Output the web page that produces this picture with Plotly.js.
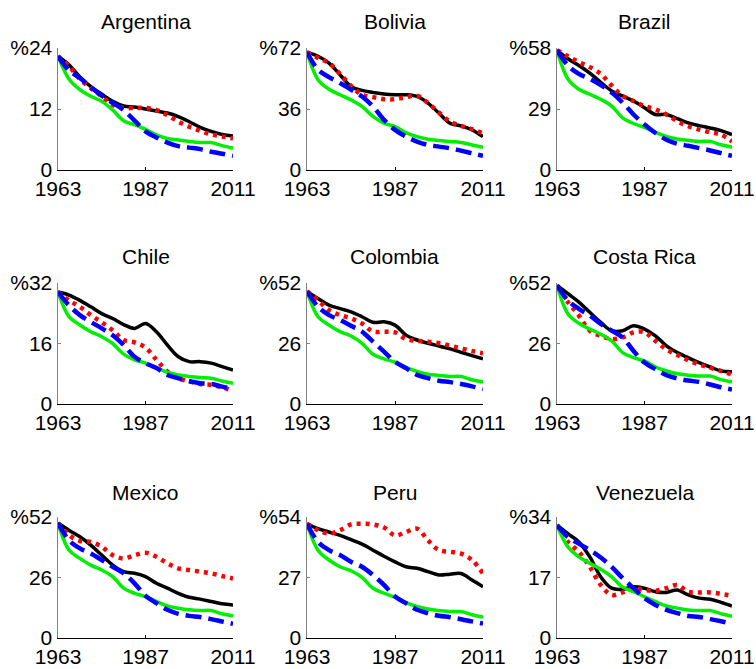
<!DOCTYPE html>
<html>
<head>
<meta charset="utf-8">
<script src="https://cdn.plot.ly/plotly-3.0.1.min.js"></script>
<style>html,body{margin:0;padding:0;background:#fff;}#chart{width:756px;height:669px;}</style>
</head>
<body>
<div id="chart"></div>
<script>
const years = [1963,1966,1969,1972,1975,1978,1981,1984,1987,1990,1993,1996,1999,2002,2005,2008,2011];
const countries = ["Argentina","Bolivia","Brazil","Chile","Colombia","Costa Rica","Mexico","Peru","Venezuela"];
const yMax = [24,72,58,32,52,52,52,54,34];
const yMid = [12,36,29,16,26,26,26,27,17];
const xTickVals = [1963,1987,2011];
const xTickText = ["1963","1987","2011"];

// series: black solid, red dotted, blue dashed, green solid
const blackSeries = [
  [22.4,20.7,18.3,16.4,14.9,13.5,12.6,12.4,12.0,11.6,11.2,10.5,9.5,8.4,7.6,7.0,6.7],
  [69.5,67.1,63.1,56.2,49.3,47.0,45.8,44.8,44.4,44.4,43.4,39.5,33.5,27.6,26.0,23.7,19.7],
  [56.9,52.9,49.7,46.1,41.7,37.6,35.2,32.8,29.6,26.4,26.4,24.4,22.4,21.1,20.0,18.7,16.8],
  [29.6,28.8,27.4,25.7,23.9,22.6,21.0,20.0,21.3,19.1,15.6,12.5,11.2,11.2,10.8,9.9,9.0],
  [48.4,45.3,42.5,41.0,39.6,37.5,35.1,35.3,33.9,29.6,27.5,26.1,24.9,23.7,22.2,20.8,19.4],
  [51.0,47.4,43.8,39.4,35.1,31.5,31.5,33.6,32.2,29.3,25.0,22.1,19.9,17.8,15.9,14.2,13.9],
  [49.4,46.3,43.5,39.9,35.6,31.3,28.5,27.8,26.4,23.5,21.4,19.2,17.5,16.7,15.7,14.7,14.2],
  [51.0,48.8,47.3,45.8,43.9,41.9,39.2,36.5,34.0,31.8,31.1,29.6,28.1,28.5,28.8,25.9,22.9],
  [31.7,29.3,27.0,22.8,17.2,14.0,13.7,14.4,14.0,13.0,12.8,13.5,12.1,11.2,10.9,10.0,9.0]
];
const redSeries = [
  [22.4,20.4,17.9,16.1,14.5,12.8,12.2,12.2,12.2,11.8,10.8,9.5,8.5,7.7,7.0,6.6,6.2],
  [69.5,66.1,63.1,56.8,49.7,44.4,43.0,41.8,41.8,43.0,43.8,39.5,33.9,28.6,26.0,24.1,21.7],
  [56.9,54.1,51.3,48.9,45.7,40.1,35.2,32.8,30.4,28.8,26.4,23.2,20.8,19.2,17.9,16.8,13.6],
  [29.6,27.4,25.7,23.5,21.6,19.5,16.9,16.3,14.9,11.7,8.6,6.8,6.0,5.3,5.1,4.4,3.5],
  [48.4,44.6,40.3,38.2,36.8,34.6,31.1,31.1,30.8,27.9,27.1,26.8,26.1,25.1,23.9,22.8,21.8],
  [51.0,43.8,38.0,31.5,29.3,27.9,28.6,30.8,30.8,27.1,23.5,21.1,18.8,17.0,15.6,14.2,12.7],
  [49.4,44.2,41.7,41.3,39.2,35.6,34.2,35.6,36.6,34.9,32.1,29.9,29.2,28.5,27.8,26.6,25.6],
  [51.0,48.1,46.6,48.1,50.7,51.0,50.7,49.3,45.8,47.3,48.8,43.6,39.2,38.5,37.7,34.8,28.8],
  [31.7,27.0,24.2,20.0,14.9,12.1,12.8,14.0,13.5,13.3,14.0,14.9,13.0,12.8,12.8,12.4,11.8]
];
const blueSeries = [
  [22.4,19.6,18.1,16.3,14.6,13.2,11.8,9.7,7.6,6.4,5.4,4.7,4.4,4.1,3.6,3.2,2.8],
  [69.5,59.2,54.8,51.3,47.4,43.4,37.5,29.6,23.7,19.7,16.8,14.8,13.8,12.8,11.4,9.9,8.3],
  [56.9,49.7,45.7,43.3,40.4,36.8,32.0,26.4,21.6,17.6,14.4,12.5,11.5,10.4,9.3,8.0,6.7],
  [29.6,26.1,23.5,21.7,20.0,18.2,15.6,12.5,10.8,9.5,7.7,6.8,6.0,5.5,5.3,4.6,4.0],
  [48.4,41.8,38.2,36.1,33.6,31.1,26.8,22.5,18.2,15.4,12.5,11.1,10.0,9.4,8.6,7.6,6.4],
  [51.0,44.5,40.9,38.0,34.4,31.5,28.6,22.8,17.8,14.9,12.4,11.0,10.1,9.5,8.4,7.2,6.2],
  [49.4,42.0,38.5,36.3,33.5,30.6,27.8,23.5,18.1,15.0,12.1,10.4,9.5,9.0,8.1,7.1,6.1],
  [51.0,42.9,39.2,37.0,34.0,31.8,28.1,23.7,18.5,15.5,12.6,11.1,9.9,9.3,8.4,7.4,6.4],
  [31.7,28.4,26.5,24.7,22.6,20.0,16.8,14.0,11.2,9.3,7.9,7.0,6.2,5.9,5.3,4.7,4.0]
];
const greenSeries = [
  [22.4,17.9,15.8,14.5,13.5,11.8,9.7,8.9,8.0,6.9,6.2,5.9,5.6,5.4,5.4,4.8,4.3],
  [69.5,53.3,47.7,44.4,41.4,37.5,31.6,27.6,25.6,22.1,19.7,18.2,17.4,16.8,16.2,14.8,13.4],
  [56.9,43.3,38.4,36.0,33.6,30.4,24.8,22.1,20.3,17.9,16.0,14.7,14.1,13.6,13.6,12.0,10.9],
  [29.6,23.1,20.9,19.1,17.8,16.0,13.2,11.7,10.8,9.6,8.4,7.7,7.3,7.0,6.8,6.1,5.5],
  [48.4,37.5,33.9,31.1,29.2,26.1,21.4,19.4,18.0,15.7,14.0,12.8,12.3,11.8,11.8,10.4,9.4],
  [51.0,38.7,34.7,32.2,30.0,27.1,22.1,19.9,18.5,15.9,14.2,13.0,12.4,12.0,12.0,10.5,9.5],
  [49.4,37.8,34.2,31.3,29.2,26.4,21.4,19.2,17.8,15.7,13.8,12.8,12.1,11.8,11.8,10.4,9.5],
  [51.0,39.2,34.8,31.8,30.0,27.1,22.2,20.0,18.2,15.8,14.1,12.9,12.3,11.8,11.8,10.4,9.3],
  [31.7,25.6,22.8,21.0,19.3,17.2,14.3,13.0,11.6,10.2,9.0,8.4,7.9,7.7,7.7,6.8,6.1]
];

const W = 756, H = 669;
const colPix = [[58,233],[307,483],[557,732]];
const rowPix = [[48,170],[283,404],[517,638]];
const titleCenterPix = [22,257,492];
const FONT = "Liberation Sans, Arial, sans-serif";
const FS = 21;

const styles = [
  {data: blackSeries, color: "#000000", dash: "solid",    width: 3.5},
  {data: redSeries,   color: "#ff0000", dash: "4px,5px",  width: 4.5},
  {data: greenSeries, color: "#00ee00", dash: "solid",    width: 3.5},
  {data: blueSeries,  color: "#0000ff", dash: "16px,7px", width: 4.5}
];

const traces = [];
const layout = {
  width: W, height: H,
  margin: {l:0, r:0, t:0, b:0},
  paper_bgcolor: "#ffffff", plot_bgcolor: "rgba(0,0,0,0)",
  showlegend: false,
  font: {family: FONT, size: FS, color: "#000"},
  annotations: []
};

countries.forEach((name, i) => {
  const r = Math.floor(i / 3), c = i % 3;
  const ax = i === 0 ? "" : String(i + 1);
  const xd = [colPix[c][0] / W, colPix[c][1] / W];
  const yd = [1 - rowPix[r][1] / H, 1 - rowPix[r][0] / H];
  styles.forEach(s => {
    traces.push({
      type: "scatter", mode: "lines",
      x: years, y: s.data[i],
      xaxis: "x" + ax, yaxis: "y" + ax,
      line: {color: s.color, dash: s.dash, width: s.width, shape: "spline", smoothing: 1},
      hoverinfo: "skip"
    });
  });
  layout["xaxis" + ax] = {
    domain: xd, anchor: "y" + ax, range: [1963, 2011],
    tickvals: xTickVals, ticktext: xTickText,
    showgrid: false, zeroline: false, showline: true,
    linecolor: "#000000", linewidth: 1.2,
    ticks: "inside", ticklen: 3, tickcolor: "#000",
    tickfont: {family: FONT, size: FS, color: "#000"},
    fixedrange: true
  };
  layout["yaxis" + ax] = {
    domain: yd, anchor: "x" + ax, range: [0, yMax[i]],
    tickvals: [0, yMid[i], yMax[i]],
    ticktext: ["0", String(yMid[i]), "%" + yMax[i]],
    showgrid: false, zeroline: false, showline: true,
    linecolor: "#808080", linewidth: 1.5,
    ticks: "inside", ticklen: 3, tickcolor: "#808080",
    tickfont: {family: FONT, size: FS, color: "#000"},
    fixedrange: true
  };
  layout.annotations.push({
    text: name, showarrow: false,
    xref: "paper", yref: "paper",
    x: (xd[0] + xd[1]) / 2, y: 1 - titleCenterPix[r] / H,
    xanchor: "center", yanchor: "middle",
    font: {family: FONT, size: FS, color: "#000"}
  });
});

Plotly.newPlot("chart", traces, layout, {displayModeBar: false, staticPlot: true});
</script>
</body>
</html>
